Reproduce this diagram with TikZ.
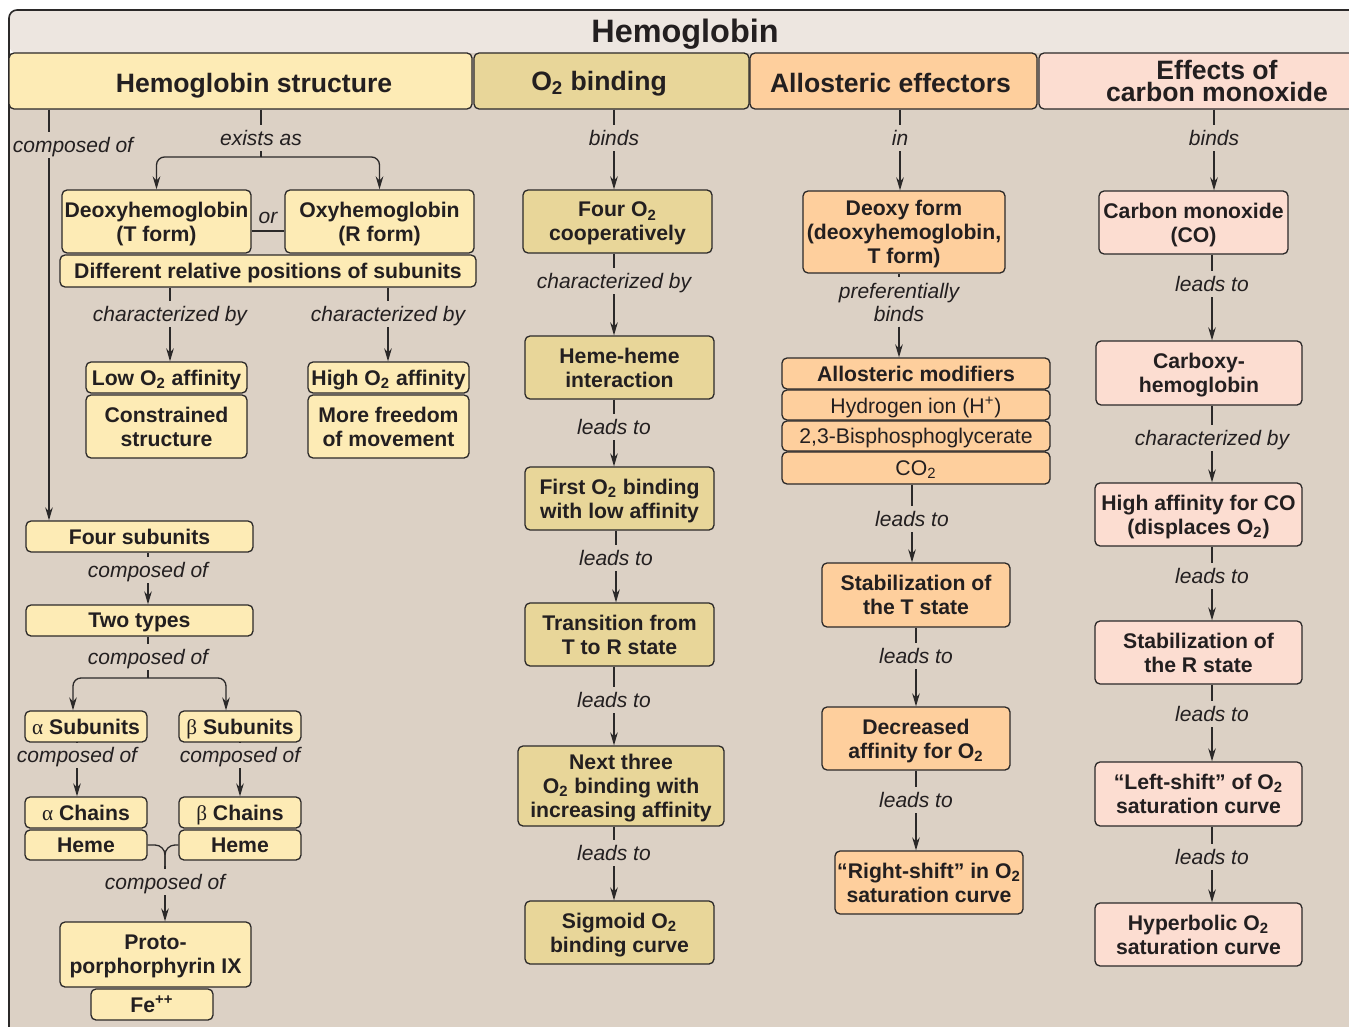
\documentclass[tikz,border=0pt]{standalone}
\usepackage{fontspec}
\setmainfont{Liberation Sans}
\newfontfamily\greekfont{Liberation Serif}
\usetikzlibrary{arrows.meta,calc}
\definecolor{hbtext}{HTML}{231F20}
\definecolor{hbline}{HTML}{2B2929}
\definecolor{hbtitle}{HTML}{EDE6E0}
\definecolor{hbbody}{HTML}{DCD1C5}
\definecolor{hbyellow}{HTML}{FDEBB5}
\definecolor{hbtan}{HTML}{E8D699}
\definecolor{hborange}{HTML}{FECF9D}
\definecolor{hbpink}{HTML}{FCDDD1}
\newcommand\hbboxfont{\fontsize{10.6}{12}\selectfont\bfseries}
\newcommand\hblabelfont{\fontsize{10.5}{11.5}\selectfont\itshape}
\newcommand\hbheadfont{\fontsize{13.3}{11}\selectfont\bfseries}
\newcommand\hbtitlefont{\fontsize{16.2}{18}\selectfont\bfseries}
\newcommand\hbalpha{{\greekfont\mdseries α}}
\newcommand\hbbeta{{\greekfont\mdseries β}}
\newcommand\Otwo{O\textsubscript{2}}

\begin{document}
\begin{tikzpicture}[
  x=0.5pt, y=-0.5pt,
  box/.style 2 args={draw=hbline, line width=0.65pt, rounded corners=2.5pt, align=center,
                     inner sep=0pt, text=hbtext, font=\hbboxfont, text depth=0pt,
                     minimum width=#1*0.5pt, minimum height=#2*0.5pt},
  ybox/.style 2 args={box={#1}{#2}, fill=hbyellow},
  tbox/.style 2 args={box={#1}{#2}, fill=hbtan},
  obox/.style 2 args={box={#1}{#2}, fill=hborange},
  pbox/.style 2 args={box={#1}{#2}, fill=hbpink},
  headbox/.style={font=\hbheadfont},
  lbl/.style={font=\hblabelfont, text=hbtext, inner xsep=2pt, inner ysep=2.5pt,
              text depth=0pt, align=center},
  ln/.style={draw=hbline, line width=0.65pt},
  arr/.style={ln, -{Stealth[length=6.5pt,width=3.8pt]}},
]
\useasboundingbox (0,0) rectangle (1349,1027);
\clip (0,0) rectangle (1349,1027);

% Panel
\fill[hbbody] (9,53) rectangle (1420,1060);
\fill[hbtitle, rounded corners=4pt] (9,10) rectangle (1420,53);
\draw[hbline, line width=0.8pt, rounded corners=4pt] (9,1060) -- (9,10) -- (1420,10);
\node[font=\hbtitlefont, text=hbtext, text depth=0pt] (title) at (685,31) {Hemoglobin};

% Headers
\node[ybox={463}{56}, headbox, text height=12pt] (h1) at (240.5,81) {\hspace*{13.5pt}Hemoglobin structure};
\node[tbox={275}{56}, headbox] (h2) at (611.5,81) {\Otwo{} binding\hspace*{12.5pt}};
\node[obox={287}{56}, headbox, text height=12pt] (h3) at (893.5,81) {Allosteric effectors\hspace*{3pt}};
\node[pbox={356}{56}, headbox] (h4) at (1217,81) {Effects of\\carbon monoxide};

% Hemoglobin structure
\node[ybox={189}{63}] (deoxy) at (156.5,221.5) {Deoxyhemoglobin\\(T form)};
\node[ybox={189}{63}] (oxy) at (379.5,221.5) {Oxyhemoglobin\\(R form)};
\node[ybox={416}{32}] (diff) at (268,271) {Different relative positions of subunits};
\node[ybox={161}{31}] (lowA) at (166.5,377.5) {Low \Otwo{} affinity};
\node[ybox={161}{63}] (constr) at (166.5,426.5) {Constrained\\structure};
\node[ybox={161}{31}] (highA) at (388.5,377.5) {High \Otwo{} affinity};
\node[ybox={161}{63}] (freedom) at (388.5,426.5) {More freedom\\of movement};
\node[ybox={227}{31}] (four) at (139.5,536.5) {Four subunits};
\node[ybox={227}{31}] (two) at (139.5,620.5) {Two types};
\node[ybox={122}{31}] (aSub) at (86,726.5) {\hbalpha{} Subunits};
\node[ybox={122}{31}] (bSub) at (240,726.5) {\hbbeta{} Subunits};
\node[ybox={122}{31}] (aCh) at (86,812.5) {\hbalpha{} Chains};
\node[ybox={122}{30}] (aHeme) at (86,845) {Heme};
\node[ybox={122}{31}] (bCh) at (240,812.5) {\hbbeta{} Chains};
\node[ybox={122}{30}] (bHeme) at (240,845) {Heme};
\node[ybox={191}{65}] (proto) at (155.5,954.5) {Proto-\\porphorphyrin IX};
\node[ybox={122}{31}] (fe) at (152,1004.5) {Fe\textsuperscript{++}};

\node[lbl] (cmp0) at (73,145) {composed of};
\node[lbl] (exi) at (261,138) {exists as};
\node[lbl] (or) at (268,218) {or};
\node[lbl] (chr1) at (170,314) {characterized by};
\node[lbl] (chr2) at (388,314) {characterized by};
\node[lbl] (cmp1) at (148,570) {composed of};
\node[lbl] (cmp2) at (148,657) {composed of};
\node[lbl] (cmp3) at (77,755) {composed of};
\node[lbl] (cmp4) at (240,755) {composed of};
\node[lbl] (cmp5) at (165,882) {composed of};

% O2 binding
\node[tbox={189}{63}] (fourO) at (617.5,221.5) {Four \Otwo\\cooperatively};
\node[tbox={189}{63}] (hh) at (619.5,367.5) {Heme-heme\\interaction};
\node[tbox={189}{63}] (first) at (619.5,498.5) {First \Otwo{} binding\\with low affinity};
\node[tbox={189}{63}] (trans) at (619.5,634.5) {Transition from\\T to R state};
\node[tbox={206}{80}] (next) at (621,786) {Next three\\\Otwo{} binding with\\increasing affinity};
\node[tbox={189}{63}] (sig) at (619.5,932.5) {Sigmoid \Otwo\\binding curve};

\node[lbl] (b1) at (614,138) {binds};
\node[lbl] (chr3) at (614,281) {characterized by};
\node[lbl] (ld1) at (614,427) {leads to};
\node[lbl] (ld2) at (616,558) {leads to};
\node[lbl] (ld3) at (614,700) {leads to};
\node[lbl] (ld4) at (614,853) {leads to};

% Allosteric effectors
\node[obox={202}{82}] (dform) at (904,232) {Deoxy form\\(deoxyhemoglobin,\\T form)};
\node[obox={268}{31}] (mod1) at (916,373.5) {Allosteric modifiers};
\node[obox={268}{30}, font=\hbboxfont\mdseries] (mod2) at (916,405) {Hydrogen ion (H\textsuperscript{+})};
\node[obox={268}{30}, font=\hbboxfont\mdseries] (mod3) at (916,436) {2,3-Bisphosphoglycerate};
\node[obox={268}{32}, font=\hbboxfont\mdseries] (mod4) at (916,468) {CO\textsubscript{2}};
\node[obox={188}{64}] (stabT) at (916,595) {Stabilization of\\the T state};
\node[obox={188}{63}] (decr) at (916,738.5) {Decreased\\affinity for \Otwo};
\node[obox={188}{63}] (right) at (929,882.5) {“Right-shift” in \Otwo\\saturation curve};

\node[lbl] (lin) at (900,138) {in};
\node[lbl] (pref) at (899,302) {preferentially\\binds};
\node[lbl] (ld5) at (912,519) {leads to};
\node[lbl] (ld6) at (916,656) {leads to};
\node[lbl] (ld7) at (916,800) {leads to};

% Effects of carbon monoxide
\node[pbox={189}{63}] (co) at (1193.5,222.5) {Carbon monoxide\\(CO)};
\node[pbox={206}{64}] (carb) at (1199,373) {Carboxy-\\hemoglobin};
\node[pbox={207}{63}] (hiCO) at (1198.5,514.5) {High affinity for CO\\(displaces \Otwo)};
\node[pbox={207}{63}] (stabR) at (1198.5,652.5) {Stabilization of\\the R state};
\node[pbox={207}{64}] (left) at (1198.5,794) {“Left-shift” of \Otwo\\saturation curve};
\node[pbox={207}{63}] (hyp) at (1198.5,934.5) {Hyperbolic \Otwo\\saturation curve};

\node[lbl] (b2) at (1214,138) {binds};
\node[lbl] (ld8) at (1212,284) {leads to};
\node[lbl] (chr4) at (1212,438) {characterized by};
\node[lbl] (ld9) at (1212,576) {leads to};
\node[lbl] (ld10) at (1212,714) {leads to};
\node[lbl] (ld11) at (1212,857) {leads to};

% Straight connectors through labels
\foreach \a/\l/\b in {h2/b1/fourO, fourO/chr3/hh, hh/ld1/first, first/ld2/trans,
    trans/ld3/next, next/ld4/sig, h3/lin/dform, dform/pref/mod1, mod4/ld5/stabT,
    stabT/ld6/decr, decr/ld7/right, h4/b2/co, co/ld8/carb, carb/chr4/hiCO,
    hiCO/ld9/stabR, stabR/ld10/left, left/ld11/hyp, diff/chr1/lowA, diff/chr2/highA,
    four/cmp1/two, aSub/cmp3/aCh, bSub/cmp4/bCh}
{
  \draw[ln] (\a.south -| \l) -- (\l);
  \draw[arr] (\l) -- (\l |- \b.north);
}

% Left trunk
\coordinate (cl) at (49,145);
\draw[ln] (h1.south -| cl) -- (cl |- cmp0.north);
\draw[arr] (cl |- cmp0.south) -- (cl |- four.north);

% exists as
\coordinate (exj) at (261,157);
\draw[ln] (h1.south -| exi) -- (exi);
\draw[ln] (exi) -- (exj);
\draw[arr, rounded corners=4pt] (exj) -| (deoxy);
\draw[arr, rounded corners=4pt] (exj) -| (oxy);
\draw[ln] ($(deoxy.east)+(0,9.5)$) -- ($(oxy.west)+(0,9.5)$);

% two types branch
\coordinate (tj) at (148,678);
\draw[ln] (two.south -| cmp2) -- (cmp2);
\draw[ln] (cmp2) -- (tj);
\draw[arr, rounded corners=4pt] (tj) -| ($(aSub.north)+(-13,0)$);
\draw[arr, rounded corners=4pt] (tj) -| ($(bSub.north)+(-14,0)$);

% heme join
\coordinate (hj) at (165,866);
\draw[ln, rounded corners=5pt] (aHeme.east) -| (hj);
\draw[ln, rounded corners=5pt] (bHeme.west) -| (hj);
\draw[ln] (hj) -- (cmp5);
\draw[arr] (cmp5) -- (cmp5 |- proto.north);

\end{tikzpicture}
\end{document}
